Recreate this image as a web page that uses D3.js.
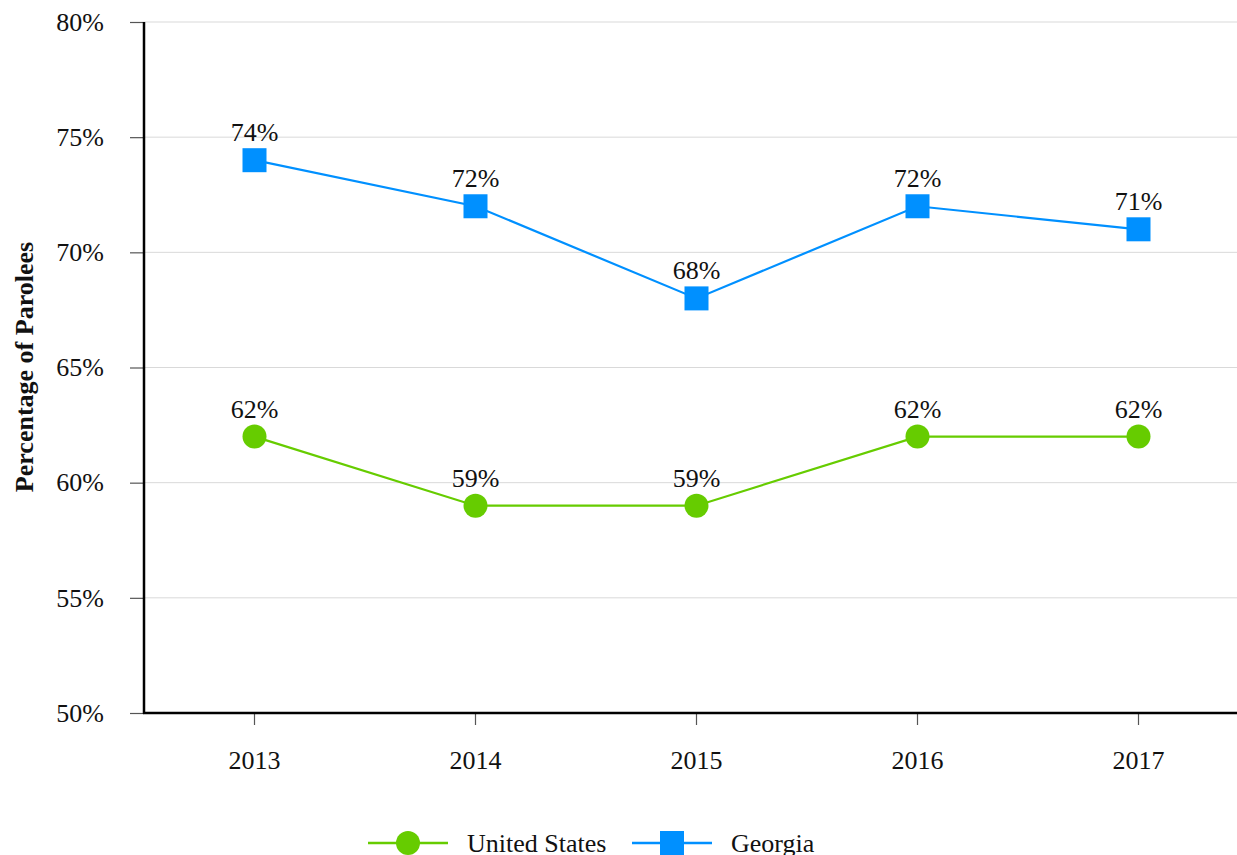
<!DOCTYPE html>
<html>
<head>
<meta charset="utf-8">
<script src="https://cdn.jsdelivr.net/npm/d3@7"></script>
<style>
  body { margin: 0; background: #fff; overflow: hidden; }
  text { font-family: "Liberation Serif", "Times New Roman", serif; fill: #111; }
</style>
</head>
<body>
<script>
// chart data
var years = ['2013', '2014', '2015', '2016', '2017']
var unitedStates = [62, 59, 59, 62, 62]
var georgia = [74, 72, 68, 72, 71]
var yTicks = [50, 55, 60, 65, 70, 75, 80]

var width = 1237,
    height = 855,
    fontSize = '26px'

var svg = d3.select('body').append('svg')
    .attr('width', width)
    .attr('height', height)

var x = d3.scaleBand()
    .domain(years)
    .range([144, 1249])

var y = d3.scaleLinear()
    .domain([50, 80])
    .range([713, 22])

// grid lines
svg.append('g')
  .selectAll('line')
  .data(yTicks.slice(1))
  .enter().append('line')
    .attr('x1', 144)
    .attr('x2', width)
    .attr('y1', d => y(d))
    .attr('y2', d => y(d))
    .attr('stroke', '#d9d9d9')
    .attr('stroke-width', 1)

// y axis
var yAxis = svg.append('g')
    .attr('transform', 'translate(144,0)')
    .call(d3.axisLeft(y).tickValues(yTicks).tickSize(14).tickPadding(26).tickFormat(d => d + '%'))
yAxis.select('.domain').remove()
yAxis.selectAll('.tick line').attr('stroke', '#555').attr('stroke-width', 1.2)
yAxis.selectAll('.tick text')
    .style('font-family', '"Liberation Serif", serif')
    .style('font-size', fontSize)
    .attr('fill', '#111')
svg.append('line')
    .attr('x1', 144).attr('x2', 144)
    .attr('y1', y(80)).attr('y2', y(50) + 1)
    .attr('stroke', '#000').attr('stroke-width', 2.5)

// x axis
var xAxis = svg.append('g')
    .attr('transform', 'translate(0,713)')
    .call(d3.axisBottom(x).tickSize(12).tickPadding(26))
xAxis.select('.domain').remove()
xAxis.selectAll('.tick line').attr('stroke', '#555').attr('stroke-width', 1.2)
xAxis.selectAll('.tick text')
    .style('font-family', '"Liberation Serif", serif')
    .style('font-size', fontSize)
    .attr('fill', '#111')
svg.append('line')
    .attr('x1', 143).attr('x2', width)
    .attr('y1', 713).attr('y2', 713)
    .attr('stroke', '#000').attr('stroke-width', 2.5)

// y axis title
svg.append('text')
    .attr('transform', 'translate(33,367) rotate(-90)')
    .attr('text-anchor', 'middle')
    .style('font-size', fontSize)
    .style('font-weight', 'bold')
    .text('Percentage of Parolees')

var cx = d => x(d) + x.bandwidth() / 2

var line = d3.line()
    .x((d, i) => cx(years[i]))
    .y(d => y(d))

var series = [
  {name: 'United States', values: unitedStates, color: '#66cc00', shape: 'circle'},
  {name: 'Georgia', values: georgia, color: '#0090ff', shape: 'square'}
]

series.forEach(function(s) {
  var g = svg.append('g')
  g.append('path')
    .datum(s.values)
    .attr('d', line)
    .attr('fill', 'none')
    .attr('stroke', s.color)
    .attr('stroke-width', 2.2)

  if (s.shape === 'circle') {
    g.selectAll('circle')
      .data(s.values)
      .enter().append('circle')
        .attr('cx', (d, i) => cx(years[i]))
        .attr('cy', d => y(d))
        .attr('r', 12)
        .attr('fill', s.color)
  } else {
    g.selectAll('rect')
      .data(s.values)
      .enter().append('rect')
        .attr('x', (d, i) => cx(years[i]) - 12)
        .attr('y', d => y(d) - 12)
        .attr('width', 24)
        .attr('height', 24)
        .attr('fill', s.color)
  }

  g.selectAll('text.val')
    .data(s.values)
    .enter().append('text')
      .attr('class', 'val')
      .attr('x', (d, i) => cx(years[i]))
      .attr('y', d => y(d) - 19)
      .attr('text-anchor', 'middle')
      .style('font-size', fontSize)
      .text(d => d + '%')
})

// legend
var legendX = [368, 632]
series.forEach(function(s, i) {
  var lg = svg.append('g').attr('transform', 'translate(' + legendX[i] + ',843)')
  lg.append('line')
    .attr('x1', 0).attr('x2', 80)
    .attr('stroke', s.color).attr('stroke-width', 2.5)
  if (s.shape === 'circle') {
    lg.append('circle').attr('cx', 40).attr('r', 12).attr('fill', s.color)
  } else {
    lg.append('rect').attr('x', 28).attr('y', -12).attr('width', 24).attr('height', 24).attr('fill', s.color)
  }
  lg.append('text')
    .attr('x', 99)
    .attr('y', 9)
    .style('font-size', fontSize)
    .text(s.name)
})
</script>
</body>
</html>
